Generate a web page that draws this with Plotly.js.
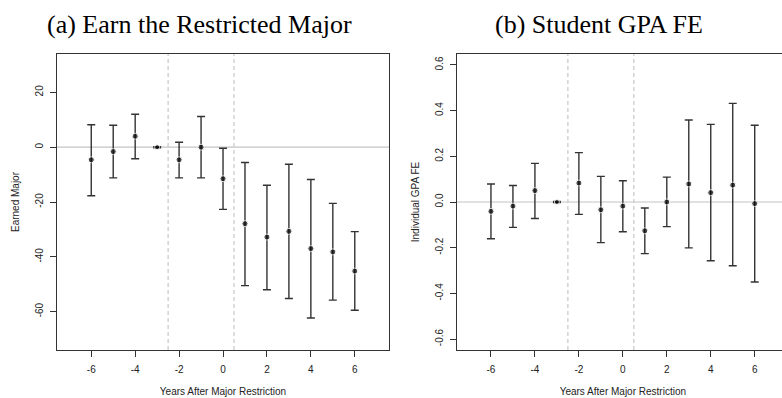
<!DOCTYPE html>
<html><head><meta charset="utf-8">
<script src="https://cdn.plot.ly/plotly-3.0.1.min.js"></script>
<style>html,body{margin:0;padding:0;overflow:hidden;background:#fff}#chart{width:791px;height:398px}</style>
</head><body><div id="chart"></div>
<script>
const years = [-6,-5,-4,-3,-2,-1,0,1,2,3,4,5,6];
const majorEst   = [-4.6,-1.6,4.0,0,-4.6,0,-11.5,-27.9,-32.8,-30.7,-37.0,-38.2,-45.2];
const majorUpper = [8.2,8.0,12.0,0.2,1.8,11.2,-0.4,-5.6,-13.9,-6.2,-11.8,-20.5,-30.8];
const majorLower = [-17.7,-11.2,-4.2,-0.2,-11.2,-11.2,-22.7,-50.5,-52.0,-55.2,-62.3,-55.8,-59.5];
const gpaEst   = [-0.041,-0.018,0.050,0,0.083,-0.034,-0.018,-0.126,0.0,0.079,0.041,0.074,-0.007];
const gpaUpper = [0.079,0.072,0.169,0.002,0.216,0.112,0.093,-0.026,0.109,0.359,0.340,0.432,0.336];
const gpaLower = [-0.161,-0.111,-0.072,-0.002,-0.054,-0.178,-0.130,-0.226,-0.108,-0.201,-0.257,-0.279,-0.350];
const xTickVals = [-6,-4,-2,0,2,4,6];
const xTickText = ["-6","-4","-2","0","2","4","6"];
const majorTickVals = [20,0,-20,-40,-60];
const majorTickText = ["20","0","-20","-40","-60"];
const gpaTickVals = [0.6,0.4,0.2,0,-0.2,-0.4,-0.6];
const gpaTickText = ["0.6","0.4","0.2","0.0","-0.2","-0.4","-0.6"];
const periodBreaks = [-2.5, 0.5];
const referenceLevel = 0;
const panelTitles = ["(a) Earn the Restricted Major", "(b) Student GPA FE"];
const yTitles = ["Earned Major", "Individual GPA FE"];
const xTitle = "Years After Major Restriction";

const sans = "Liberation Sans, Arial, sans-serif";
const serif = "Liberation Serif, Times New Roman, serif";
const markerSizes = years.map(y => y === -3 ? 5 : 6);

function diff(a, b) { return a.map((v, i) => Math.abs(v - b[i])); }

function trace(est, up, lo, xa, ya) {
  return {
    x: years, y: est, xaxis: xa, yaxis: ya, type: 'scatter', mode: 'markers',
    marker: {color: '#000', size: markerSizes},
    error_y: {type: 'data', symmetric: false, array: diff(up, est), arrayminus: diff(est, lo),
              color: '#333', thickness: 1.4, width: 4},
    showlegend: false, hoverinfo: 'skip'
  };
}

const data = [
  trace(majorEst, majorUpper, majorLower, 'x', 'y'),
  trace(gpaEst, gpaUpper, gpaLower, 'x2', 'y2')
];

function xAxis(domain, anchor) {
  return {
    domain: domain, anchor: anchor, range: [-7.56, 7.56],
    tickvals: xTickVals, ticktext: xTickText,
    ticks: 'outside', ticklen: 6, tickcolor: '#333', tickwidth: 1,
    ticklabelstandoff: 4,
    showline: true, mirror: true, linecolor: '#333', linewidth: 1,
    showgrid: false, zeroline: false,
    tickfont: {family: sans, size: 10, color: '#222'},
    title: {text: xTitle, font: {family: sans, size: 10, color: '#222'}, standoff: 13}
  };
}
function yAxis(range, vals, text, title, anchor) {
  return {
    domain: [0, 1], anchor: anchor, range: range,
    tickvals: vals, ticktext: text, tickangle: -90,
    ticks: 'outside', ticklen: 6, tickcolor: '#333', tickwidth: 1,
    ticklabelstandoff: 3,
    showline: true, mirror: true, linecolor: '#333', linewidth: 1,
    showgrid: false, zeroline: false,
    tickfont: {family: sans, size: 10, color: '#222'},
    title: {text: title, font: {family: sans, size: 10, color: '#222'}, standoff: 12}
  };
}

const shapes = [];
[['x', 'y'], ['x2', 'y2']].forEach(([xa, ya]) => {
  shapes.push({type: 'line', layer: 'below', xref: xa + ' domain', x0: 0, x1: 1,
               yref: ya, y0: referenceLevel, y1: referenceLevel,
               line: {color: '#c4c4c4', width: 1.2}});
  periodBreaks.forEach(b => shapes.push({type: 'line', layer: 'below', xref: xa, x0: b, x1: b,
               yref: ya + ' domain', y0: 0, y1: 1,
               line: {color: '#c8c8c8', width: 1.2, dash: '4px,3px'}}));
});

const layout = {
  width: 791, height: 398,
  margin: {l: 57, r: 2, t: 54, b: 48},
  paper_bgcolor: '#fff', plot_bgcolor: '#fff',
  xaxis: xAxis([0, 0.4536], 'y'),
  xaxis2: xAxis([0.546, 1], 'y2'),
  yaxis: yAxis([-74, 34], majorTickVals, majorTickText, yTitles[0], 'x'),
  yaxis2: yAxis([-0.648, 0.648], gpaTickVals, gpaTickText, yTitles[1], 'x2'),
  shapes: shapes,
  annotations: [
    {text: panelTitles[0], xref: 'paper', yref: 'paper', x: 0.194, y: 1.101, xanchor: 'center', yanchor: 'middle',
     showarrow: false, font: {family: serif, size: 26, color: '#000'}},
    {text: panelTitles[1], xref: 'paper', yref: 'paper', x: 0.741, y: 1.101, xanchor: 'center', yanchor: 'middle',
     showarrow: false, font: {family: serif, size: 26, color: '#000'}}
  ]
};

Plotly.newPlot('chart', data, layout, {staticPlot: true, displayModeBar: false});
</script>
</body></html>
